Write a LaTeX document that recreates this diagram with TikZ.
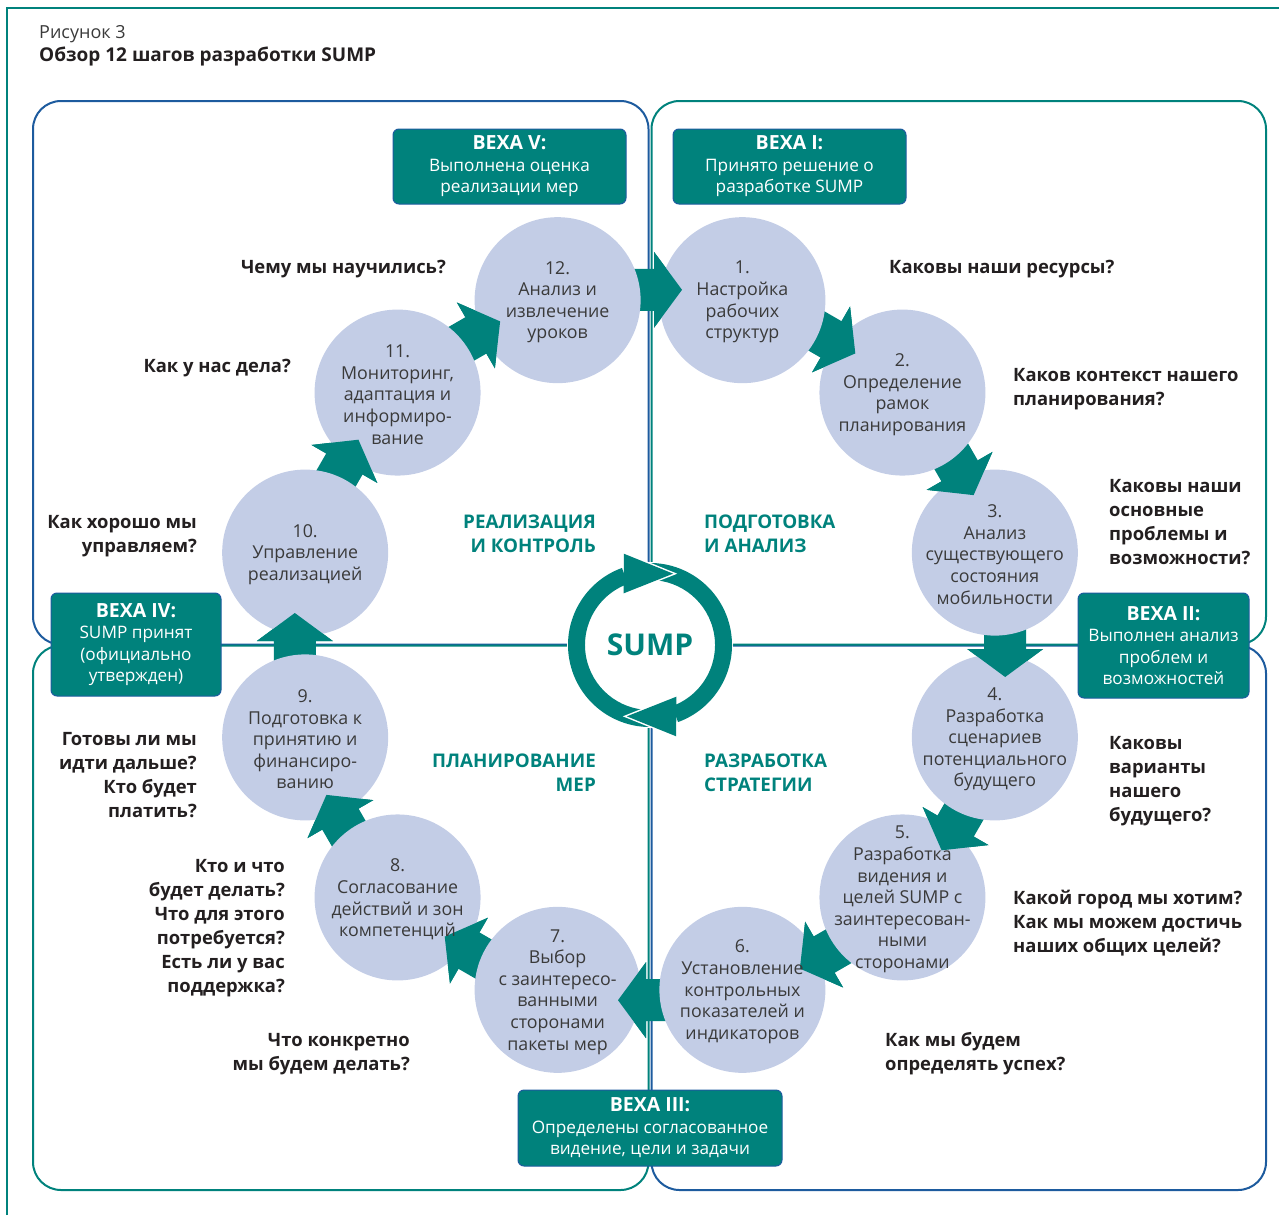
\documentclass[tikz,border=0pt]{standalone}
\usepackage{fontspec}
\setmainfont{Open Sans}
\usetikzlibrary{calc}
\definecolor{tealc}{HTML}{00827C}
\definecolor{bluec}{HTML}{1D5B9E}
\definecolor{circc}{HTML}{C3CDE6}
\definecolor{ctext}{HTML}{3A3A3A}
\definecolor{qtext}{HTML}{231F20}
\newcommand\mlttl[1]{{\fontsize{19.5}{22}\selectfont\bfseries #1}}
\begin{document}
\begin{tikzpicture}[x=1pt,y=-1pt,
  stepcirc/.style={circle, fill=circc, minimum size=166pt, inner sep=0pt},
  steptext/.style={align=center, inner sep=0pt, yshift=-2pt, text=ctext, font=\fontsize{17.8}{21.6}\selectfont},
  quest/.style={inner sep=0pt, yshift=-2pt, text=qtext, font=\fontsize{18.4}{24}\selectfont\bfseries},
  phase/.style={inner sep=0pt, yshift=-1pt, text=tealc, font=\fontsize{18.8}{24}\selectfont\bfseries},
  milebox/.style={draw=bluec, line width=1pt, fill=tealc, rounded corners=6pt, inner sep=0pt, align=center, text=white, font=\fontsize{17.2}{21.5}\selectfont},
  quad/.style={line width=2pt, rounded corners=28pt},
  blockarrow/.style={fill=tealc}
]
\useasboundingbox (0,0) rectangle (1279,1215);
% outer frame
\draw[tealc, line width=1.5pt] (7,1215) -- (7,8) -- (1279,8);
% header
\node[anchor=base west, inner sep=0pt, text=ctext, font=\fontsize{18}{20}\selectfont] (fig) at (39,38) {Рисунок 3};
\node[anchor=base west, inner sep=0pt, text=qtext, font=\fontsize{19}{20}\selectfont\bfseries] (title) at (39,62) {Обзор 12 шагов разработки SUMP};
% quadrant frames
\draw[quad, bluec] (33,101) rectangle (648.5,644.5);
\draw[quad, bluec] (651.5,645.5) rectangle (1266,1190);
\draw[quad, tealc] (651.5,101) rectangle (1266,644.5);
\draw[quad, tealc] (33,645.5) rectangle (648.5,1190);
% centre
\coordinate (c) at (650,645);
\foreach \k in {1,...,12}{
  \pgfmathsetmacro\p{75-30*(\k-1)}
  \coordinate (p\k) at ({650+357*cos(\p)},{645-357*sin(\p)});
}
% block arrows (first pass, full)
\foreach \a/\b [count=\i from 0] in {12/1,1/2,2/3,3/4,4/5,5/6,6/7,7/8,8/9,9/10,10/11,11/12}{
  \pgfmathsetmacro\r{-30*\i}
  \coordinate (mid\i) at ($(p\a)!0.5!(p\b)$);
  \begin{scope}[shift={($(c)!1.03!(mid\i)$)}, rotate=\r]
    \fill[blockarrow] (-45,-21) -- (4,-21) -- (4,-38) -- (32,0) -- (4,38) -- (4,21) -- (-45,21) -- cycle;
  \end{scope}
}
% circles
\foreach \k in {1,...,12}{
  \node[stepcirc] (s\k) at (p\k) {};
}
% arrow heads on top of the target circles
\foreach \a/\b [count=\i from 0] in {12/1,1/2,2/3,3/4,4/5,5/6,6/7,7/8,8/9,9/10,10/11,11/12}{
  \pgfmathsetmacro\r{-30*\i}
  \begin{scope}[shift={($(c)!1.03!($(s\a.center)!0.5!(s\b.center)$)$)}, rotate=\r]
    \fill[blockarrow] (4,-38) -- (32,0) -- (4,38) -- cycle;
  \end{scope}
}
% step texts
\node[steptext] (t1) at (s1) {1.\\Настройка\\рабочих\\структур};
\node[steptext] (t2) at (s2) {2.\\Определение\\рамок\\планирования};
\node[steptext] (t3) at (s3) {3.\\Анализ\\существующего\\состояния\\мобильности};
\node[steptext] (t4) at (s4) {4.\\Разработка\\сценариев\\потенциального\\будущего};
\node[steptext] (t5) at (s5) {5.\\Разработка\\видения и\\целей SUMP с\\заинтересован-\\ными\\сторонами};
\node[steptext] (t6) at (s6) {6.\\Установление\\контрольных\\показателей и\\индикаторов};
\node[steptext] (t7) at (s7) {7.\\Выбор\\с заинтересо-\\ванными\\сторонами\\пакеты мер};
\node[steptext] (t8) at (s8) {8.\\Согласование\\действий и зон\\компетенций};
\node[steptext] (t9) at (s9) {9.\\Подготовка к\\принятию и\\финансиро-\\ванию};
\node[steptext] (t10) at (s10) {10.\\Управление\\реализацией};
\node[steptext] (t11) at (s11) {11.\\Мониторинг,\\адаптация и\\информиро-\\вание};
\node[steptext] (t12) at (s12) {12.\\Анализ и\\извлечение\\уроков};
% SUMP cycle
\begin{scope}[shift={(c)}, yscale=-1]
  \fill[white] (0,0) circle[radius=83];
  \fill[tealc] (100:82) arc[start angle=100, end angle=-70, radius=82] -- (-70:65) arc[start angle=-70, end angle=100, radius=65] -- cycle;
  \fill[tealc] (280:82) arc[start angle=280, end angle=110, radius=82] -- (110:65) arc[start angle=110, end angle=280, radius=65] -- cycle;
  \draw[white, line width=3pt] (106:95) -- (72:75) -- (117:58);
  \fill[tealc] (106:95) -- (72:75) -- (117:58) -- cycle;
  \draw[white, line width=3pt] (286:95) -- (252:75) -- (297:58);
  \fill[tealc] (286:95) -- (252:75) -- (297:58) -- cycle;
\end{scope}
\node[inner sep=0pt, text=tealc, font=\fontsize{30}{30}\selectfont\bfseries] (sump) at (c) {SUMP};
% phase labels
\node[phase, anchor=east, align=right] (ph1) at (596,533) {РЕАЛИЗАЦИЯ\\И КОНТРОЛЬ};
\node[phase, anchor=west, align=left] (ph2) at (704,533) {ПОДГОТОВКА\\И АНАЛИЗ};
\node[phase, anchor=east, align=right] (ph3) at (596,772) {ПЛАНИРОВАНИЕ\\МЕР};
\node[phase, anchor=west, align=left] (ph4) at (704,772) {РАЗРАБОТКА\\СТРАТЕГИИ};
% milestones
\node[milebox, minimum width=233pt, minimum height=75pt] (m5) at (509.5,166.5) {\mlttl{ВЕХА V:}\\Выполнена оценка\\реализации мер};
\node[milebox, minimum width=233pt, minimum height=75pt] (m1) at (789.5,166.5) {\mlttl{ВЕХА I:}\\Принято решение о\\разработке SUMP};
\node[milebox, minimum width=170pt, minimum height=103pt] (m4) at (136,644.5) {\mlttl{ВЕХА IV:}\\SUMP принят\\(официально\\утвержден)};
\node[milebox, minimum width=171pt, minimum height=105pt] (m2) at (1163.5,645.5) {\mlttl{ВЕХА II:}\\Выполнен анализ\\проблем и\\возможностей};
\node[milebox, minimum width=264pt, minimum height=76pt] (m3) at (650,1128) {\mlttl{ВЕХА III:}\\Определены согласованное\\видение, цели и задачи};
% questions
\node[quest, anchor=east, align=right] (q12) at (446,267) {Чему мы научились?};
\node[quest, anchor=east, align=right] (q11) at (291,366) {Как у нас дела?};
\node[quest, anchor=east, align=right] (q10) at (197,534) {Как хорошо мы\\управляем?};
\node[quest, anchor=east, align=right] (q9) at (197,773) {Готовы ли мы\\идти дальше?\\Кто будет\\платить?};
\node[quest, anchor=east, align=right] (q8) at (285,926) {Кто и что\\будет делать?\\Что для этого\\потребуется?\\Есть ли у вас\\поддержка?};
\node[quest, anchor=east, align=right] (q7) at (410,1052) {Что конкретно\\мы будем делать?};
\node[quest, anchor=west, align=left] (q1) at (889,267) {Каковы наши ресурсы?};
\node[quest, anchor=west, align=left] (q2) at (1013,387) {Каков контекст нашего\\планирования?};
\node[quest, anchor=west, align=left] (q3) at (1109,520) {Каковы наши\\основные\\проблемы и\\возможности?};
\node[quest, anchor=west, align=left] (q4) at (1109,779) {Каковы\\варианты\\нашего\\будущего?};
\node[quest, anchor=west, align=left] (q5) at (1013,921) {Какой город мы хотим?\\Как мы можем достичь\\наших общих целей?};
\node[quest, anchor=west, align=left] (q6) at (885,1052) {Как мы будем\\определять успех?};
\end{tikzpicture}
\end{document}
